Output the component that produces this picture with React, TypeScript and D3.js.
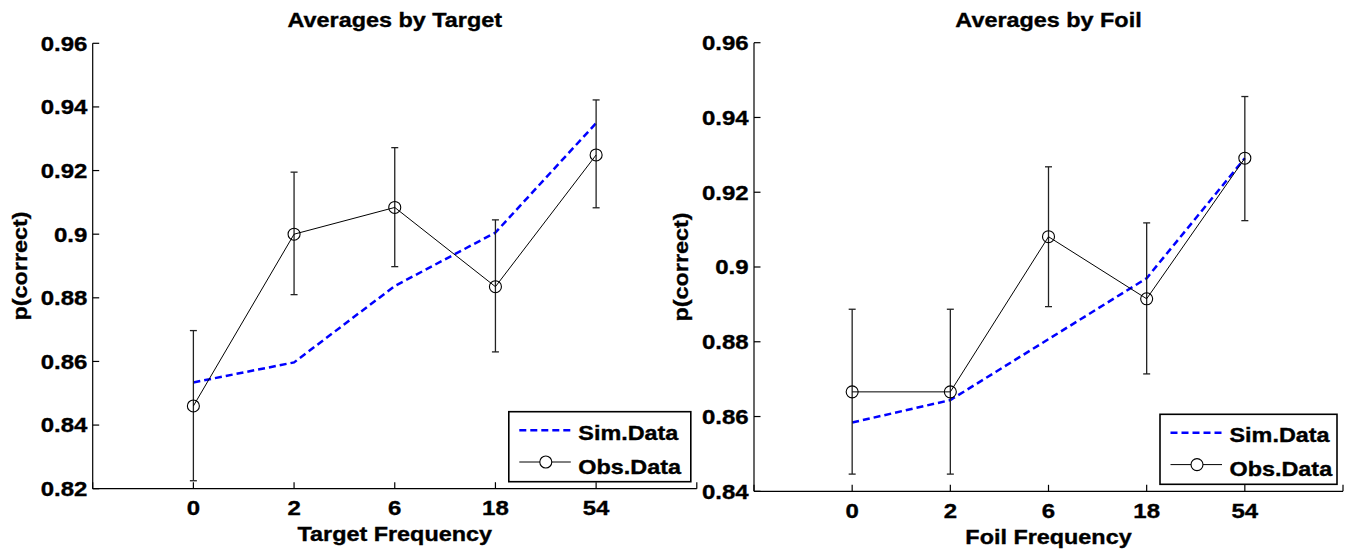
import React from "react";
import * as d3 from "d3";

const categories = ["0", "2", "6", "18", "54"];

const targetSim = [0.8534, 0.8597, 0.8837, 0.9005, 0.9349];
const targetObs = [0.846, 0.9, 0.9084, 0.8835, 0.9249];
const targetErrLow = [0.8225, 0.881, 0.8898, 0.863, 0.9083];
const targetErrHigh = [0.8697, 0.9195, 0.9272, 0.9045, 0.9422];

const foilSim = [0.8584, 0.8644, 0.8807, 0.897, 0.9291];
const foilObs = [0.8666, 0.8666, 0.9081, 0.8915, 0.9291];
const foilErrLow = [0.8446, 0.8446, 0.8894, 0.8714, 0.9124];
const foilErrHigh = [0.8887, 0.8887, 0.9268, 0.9118, 0.9456];

const targetYTicks = [0.82, 0.84, 0.86, 0.88, 0.9, 0.92, 0.94, 0.96];
const targetYTickLabels = ["0.82", "0.84", "0.86", "0.88", "0.9", "0.92", "0.94", "0.96"];
const foilYTicks = [0.84, 0.86, 0.88, 0.9, 0.92, 0.94, 0.96];
const foilYTickLabels = ["0.84", "0.86", "0.88", "0.9", "0.92", "0.94", "0.96"];

const legendLabels = ["Sim.Data", "Obs.Data"];

const FONT = "'Liberation Sans', Arial, Helvetica, sans-serif";

type TProps = {
  x: number;
  y: number;
  anchor?: "start" | "middle" | "end";
  rotate?: boolean;
  size?: number;
  children: React.ReactNode;
};

function SText({ x, y, anchor = "start", rotate = false, size = 20.5, children }: TProps) {
  return (
    <text
      transform={`translate(${x},${y})${rotate ? " rotate(-90)" : ""} scale(1.17,1)`}
      textAnchor={anchor}
      fontSize={size}
      fontWeight="bold"
      fontFamily={FONT}
      fill="#000"
      stroke="#000"
      strokeWidth={0.35}
    >
      {children}
    </text>
  );
}

type PanelProps = {
  title: string;
  xLabel: string;
  sim: number[];
  obs: number[];
  errLow: number[];
  errHigh: number[];
  yTicks: number[];
  yTickLabels: string[];
  yDomain: [number, number];
  x0: number;
  x1: number;
  yTop: number;
  yBottom: number;
  legendW: number;
};

function Panel(p: PanelProps) {
  const x = d3.scaleLinear().domain([0, 6]).range([p.x0, p.x1]);
  const y = d3.scaleLinear().domain(p.yDomain).range([p.yBottom, p.yTop]);
  const line = d3
    .line<number>()
    .x((_, i) => x(i + 1))
    .y((d) => y(d));
  const xMid = (p.x0 + p.x1) / 2;
  const yMid = (p.yTop + p.yBottom) / 2;
  const tickLen = 6.5;
  const capW = 3.5;

  const lgH = 70;
  const lgX = p.x1 - 6 - p.legendW;
  const lgY = p.yBottom - 7 - lgH;

  const xTickIdx = d3.range(0, 7);

  return (
    <g>
      <SText x={xMid} y={26.7} anchor="middle" size={20}>
        {p.title}
      </SText>
      <line x1={p.x0} x2={p.x0} y1={p.yTop} y2={p.yBottom} stroke="#000" strokeWidth={1.2} />
      <line x1={p.x0} x2={p.x1} y1={p.yBottom} y2={p.yBottom} stroke="#000" strokeWidth={1.2} />
      {p.yTicks.map((t, i) => (
        <g key={"yt" + i}>
          <line x1={p.x0} x2={p.x0 + tickLen} y1={y(t)} y2={y(t)} stroke="#000" strokeWidth={1.2} />
          <SText x={p.x0 - 5.4} y={y(t) + 7.4} anchor="end">
            {p.yTickLabels[i]}
          </SText>
        </g>
      ))}
      {xTickIdx.map((k) => (
        <line
          key={"xt" + k}
          x1={x(k)}
          x2={x(k)}
          y1={p.yBottom}
          y2={p.yBottom - tickLen}
          stroke="#000"
          strokeWidth={1.2}
        />
      ))}
      {categories.map((c, i) => (
        <SText key={"xl" + i} x={x(i + 1)} y={p.yBottom + 26.5} anchor="middle">
          {c}
        </SText>
      ))}
      <SText x={xMid} y={p.yBottom + 52.5} anchor="middle" size={20}>
        {p.xLabel}
      </SText>
      <SText x={p.x0 - 66} y={yMid} anchor="middle" rotate size={20}>
        p(correct)
      </SText>

      <path d={line(p.sim) || ""} fill="none" stroke="#0000ff" strokeWidth={2.5} strokeDasharray="7,4" />

      {p.obs.map((_, i) => {
        const cx = x(i + 1);
        return (
          <g key={"eb" + i} stroke="#222" strokeWidth={1.3}>
            <line x1={cx} x2={cx} y1={y(p.errHigh[i])} y2={y(p.errLow[i])} />
            <line x1={cx - capW} x2={cx + capW} y1={y(p.errHigh[i])} y2={y(p.errHigh[i])} />
            <line x1={cx - capW} x2={cx + capW} y1={y(p.errLow[i])} y2={y(p.errLow[i])} />
          </g>
        );
      })}
      <path d={line(p.obs) || ""} fill="none" stroke="#000" strokeWidth={1} />
      {p.obs.map((v, i) => (
        <circle key={"m" + i} cx={x(i + 1)} cy={y(v)} r={6} fill="none" stroke="#000" strokeWidth={1.1} />
      ))}

      <rect x={lgX} y={lgY} width={p.legendW} height={lgH} fill="#fff" stroke="#000" strokeWidth={1.6} />
      <line
        x1={lgX + 10.5}
        x2={lgX + 62}
        y1={lgY + 18.5}
        y2={lgY + 18.5}
        stroke="#0000ff"
        strokeWidth={2.5}
        strokeDasharray="7,4"
      />
      <SText x={lgX + 69.5} y={lgY + 27.8} size={20}>
        {legendLabels[0]}
      </SText>
      <line x1={lgX + 10.5} x2={lgX + 62} y1={lgY + 50.3} y2={lgY + 50.3} stroke="#000" strokeWidth={1} />
      <circle cx={lgX + 37} cy={lgY + 50.3} r={6} fill="#fff" stroke="#000" strokeWidth={1.1} />
      <SText x={lgX + 69.5} y={lgY + 61.8} size={20}>
        {legendLabels[1]}
      </SText>
    </g>
  );
}

export default function App() {
  return (
    <svg
      width={1348}
      height={560}
      viewBox="0 0 1348 560"
      style={{ position: "absolute", left: 0, top: 0, background: "#fff" }}
    >
      <rect x={0} y={0} width={1348} height={560} fill="#fff" />
      <Panel
        title="Averages by Target"
        xLabel="Target Frequency"
        sim={targetSim}
        obs={targetObs}
        errLow={targetErrLow}
        errHigh={targetErrHigh}
        yTicks={targetYTicks}
        yTickLabels={targetYTickLabels}
        yDomain={[0.82, 0.96]}
        x0={92.7}
        x1={696.8}
        yTop={43.3}
        yBottom={488.7}
        legendW={182}
      />
      <Panel
        title="Averages by Foil"
        xLabel="Foil Frequency"
        sim={foilSim}
        obs={foilObs}
        errLow={foilErrLow}
        errHigh={foilErrHigh}
        yTicks={foilYTicks}
        yTickLabels={foilYTickLabels}
        yDomain={[0.84, 0.96]}
        x0={754}
        x1={1343}
        yTop={42.7}
        yBottom={491.3}
        legendW={177}
      />
    </svg>
  );
}
